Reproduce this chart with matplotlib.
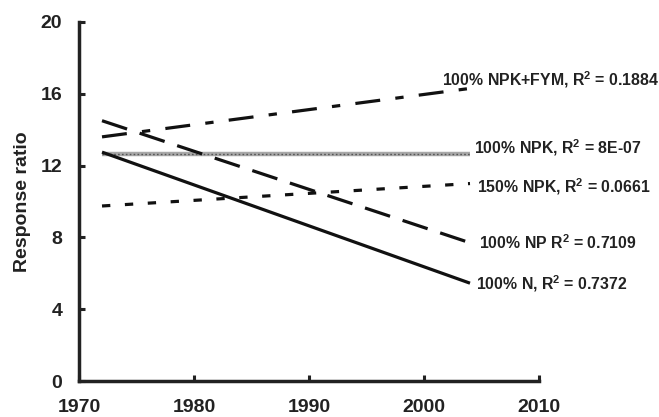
import matplotlib
matplotlib.use("Agg")
import matplotlib.pyplot as plt

plt.rcParams['font.family'] = ['Liberation Sans', 'DejaVu Sans']
plt.rcParams['font.weight'] = 'bold'
plt.rcParams['mathtext.fontset'] = 'custom'
plt.rcParams['mathtext.rm'] = 'Liberation Sans:bold'
plt.rcParams['mathtext.bf'] = 'Liberation Sans:bold'
plt.rcParams['lines.scale_dashes'] = False

# trend lines: start and end of each fitted line
years = [1972, 2004]
npk_fym = [13.6, 16.3]
npk_100 = [12.65, 12.65]
npk_150 = [9.75, 11.0]
np_100 = [14.5, 7.7]
n_100 = [12.75, 5.45]

labels = [r"100% NPK+FYM, R$^{\mathbf{2}}$ = 0.1884",
          r"100% NPK, R$^{\mathbf{2}}$ = 8E-07",
          r"150% NPK, R$^{\mathbf{2}}$ = 0.0661",
          r"100% NP R$^{\mathbf{2}}$ = 0.7109",
          r"100% N, R$^{\mathbf{2}}$ = 0.7372"]

fig = plt.figure(figsize=(6.59, 4.17), dpi=100)
ax = fig.add_axes([0.1199, 0.0863, 0.698, 0.8610])

lw = 2.3
ax.plot(years, npk_fym, color='#111111', lw=lw, dashes=(18, 11, 6, 11), solid_capstyle='butt')
ax.plot(years, npk_100, color='#a8a8a8', lw=3.2, solid_capstyle='butt')
ax.plot(years, npk_100, color='#555555', lw=1.0, dashes=(1.2, 1.6))
ax.plot(years, npk_150, color='#111111', lw=lw, dashes=(6, 10.5))
ax.plot(years, np_100, color='#111111', lw=lw, dashes=(19, 9.5))
ax.plot(years, n_100, color='#111111', lw=lw, solid_capstyle='butt')

# labels at the right end of each line
label_x = [2001.6, 2004.35, 2004.6, 2004.8, 2004.5]
label_y = [16.45, 12.7, 10.5, 7.35, 5.1]
for x, y, s in zip(label_x, label_y, labels):
    ax.text(x, y, s, fontsize=11.4, fontweight='bold', ha='left', va='baseline',
            color='#222222', clip_on=False)

ax.set_xlim(1970, 2010)
ax.set_ylim(0, 20)
ax.set_xticks([1970, 1980, 1990, 2000, 2010])
ax.set_yticks([0, 4, 8, 12, 16, 20])
ax.tick_params(direction='in', length=4, width=2.2, labelsize=14, colors='#222222')
ax.tick_params(axis='x', pad=13)
ax.tick_params(axis='y', pad=12)
for lab in ax.get_xticklabels() + ax.get_yticklabels():
    lab.set_fontweight('bold')

for side in ['top', 'right']:
    ax.spines[side].set_visible(False)
for side in ['left', 'bottom']:
    ax.spines[side].set_linewidth(2.5)
    ax.spines[side].set_color('#222222')

ax.set_ylabel('Response ratio', fontsize=14, fontweight='bold', color='#222222', labelpad=7)

fig.savefig('out.png', dpi=100)
